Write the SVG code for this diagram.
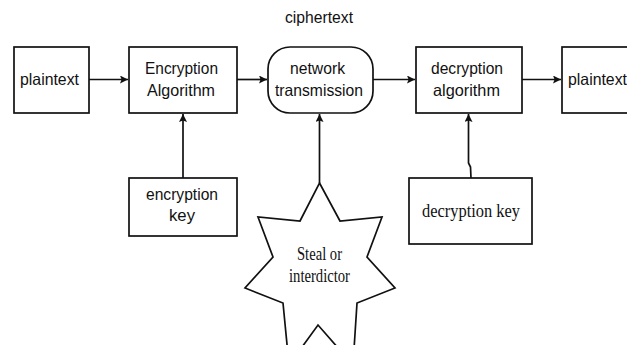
<svg xmlns="http://www.w3.org/2000/svg" width="627" height="345" viewBox="0 0 627 345">
  <style>
    .box { fill: #fff; stroke: #111; stroke-width: 1.7; }
    .line { fill: none; stroke: #111; stroke-width: 1.7; }
    .sans { font-family: "Liberation Sans", Arial, sans-serif; font-size: 16.5px; fill: #111; }
    .serif { font-family: "Liberation Serif", "Times New Roman", serif; font-size: 19px; fill: #111; }
  </style>
  <defs>
    <marker id="arrow" viewBox="0 0 10 10" refX="10" refY="5" markerWidth="9" markerHeight="8" markerUnits="userSpaceOnUse" orient="auto">
      <path d="M0,0 L10,5 L0,10 L2,5 Z" fill="#111"/>
    </marker>
  </defs>
  <rect width="627" height="345" fill="#fff"/>

  <text class="sans" x="285" y="23" textLength="68" lengthAdjust="spacingAndGlyphs">ciphertext</text>

  <g id="connectors">
    <line class="line" x1="89" y1="79.5" x2="128" y2="79.5" marker-end="url(#arrow)"/>
    <line class="line" x1="237" y1="79.5" x2="267" y2="79.5" marker-end="url(#arrow)"/>
    <line class="line" x1="373" y1="79.5" x2="415" y2="79.5" marker-end="url(#arrow)"/>
    <line class="line" x1="522" y1="79.5" x2="561" y2="79.5" marker-end="url(#arrow)"/>
    <line class="line" x1="183" y1="178" x2="183" y2="114" marker-end="url(#arrow)"/>
    <line class="line" x1="319.5" y1="183" x2="319.5" y2="114" marker-end="url(#arrow)"/>
    <polyline class="line" points="471,178 470.5,167 468.5,163 468.5,114" marker-end="url(#arrow)"/>
  </g>

  <g id="plaintext-in">
    <rect class="box" x="14" y="47" width="75" height="66"/>
    <text class="sans" x="20" y="85" textLength="59" lengthAdjust="spacingAndGlyphs">plaintext</text>
  </g>

  <g id="encryption-algorithm">
    <rect class="box" x="129" y="47" width="108" height="66"/>
    <text class="sans" x="145" y="74" textLength="73" lengthAdjust="spacingAndGlyphs">Encryption</text>
    <text class="sans" x="147" y="96" textLength="68" lengthAdjust="spacingAndGlyphs">Algorithm</text>
  </g>

  <g id="network-transmission">
    <rect class="box" x="268" y="47" width="105" height="66" rx="22" ry="22"/>
    <text class="sans" x="290" y="74" textLength="55" lengthAdjust="spacingAndGlyphs">network</text>
    <text class="sans" x="275" y="96" textLength="88" lengthAdjust="spacingAndGlyphs">transmission</text>
  </g>

  <g id="decryption-algorithm">
    <rect class="box" x="416" y="47" width="106" height="66"/>
    <text class="sans" x="431" y="74" textLength="72" lengthAdjust="spacingAndGlyphs">decryption</text>
    <text class="sans" x="433" y="96" textLength="67" lengthAdjust="spacingAndGlyphs">algorithm</text>
  </g>

  <g id="plaintext-out">
    <rect class="box" x="562" y="47" width="80" height="66"/>
    <text class="sans" x="568" y="85" textLength="59" lengthAdjust="spacingAndGlyphs">plaintext</text>
  </g>

  <g id="encryption-key">
    <rect class="box" x="129" y="178" width="108" height="58"/>
    <text class="sans" x="146" y="200" textLength="72" lengthAdjust="spacingAndGlyphs">encryption</text>
    <text class="sans" x="169" y="221" textLength="26" lengthAdjust="spacingAndGlyphs">key</text>
  </g>

  <g id="decryption-key">
    <rect class="box" x="409" y="178" width="123" height="66"/>
    <text class="serif" x="422" y="217" textLength="98" lengthAdjust="spacingAndGlyphs">decryption key</text>
  </g>

  <g id="steal-or-interdictor">
    <polygon class="box" points="319.5,183 340,221 382,217 367,257 395,288 357,303 353,365 318,325 289,365 283,303 245,288 273,257 258,217 300,221"/>
    <text class="serif" x="297" y="260" textLength="45" lengthAdjust="spacingAndGlyphs">Steal or</text>
    <text class="serif" x="289" y="282" textLength="61" lengthAdjust="spacingAndGlyphs">interdictor</text>
  </g>
</svg>
